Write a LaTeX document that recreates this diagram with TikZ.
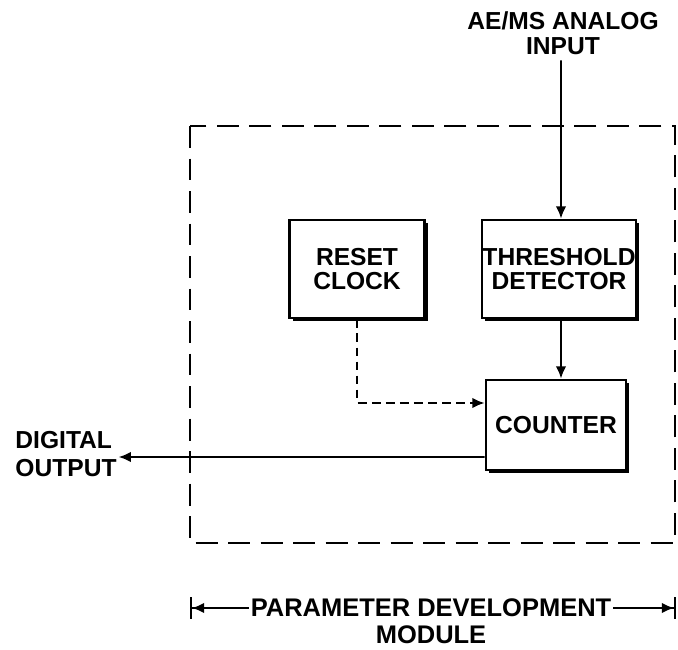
\documentclass[tikz,border=0pt]{standalone}
\usepackage{fontspec}
\setmainfont{Liberation Sans}
\usepackage{tikz}
\usetikzlibrary{arrows.meta,positioning,shadows,calc}

\begin{document}
\begin{tikzpicture}[
  x=0.02cm,y=-0.02cm,
  lbl/.style={font=\fontsize{14}{14}\selectfont\bfseries,align=center,inner sep=1pt},
  blok/.style={rectangle,draw,line width=1.6pt,fill=white,inner sep=0pt,
    font=\fontsize{14}{14}\selectfont\bfseries,align=center,
    drop shadow={shadow xshift=1.8pt,shadow yshift=-1.8pt,fill=black,opacity=1}},
  sig/.style={-{Latex[length=7pt,width=6pt]},line width=1.1pt},
  clk/.style={-{Latex[length=7pt,width=6pt]},line width=1.1pt,dash pattern=on 5pt off 3pt},
  modb/.style={line width=1.4pt,dash pattern=on 12.5pt off 6pt},
  dimn/.style={line width=1.1pt,-{Latex[length=7pt,width=6pt]Bar[width=12pt]}}
]
  \useasboundingbox (0,0) rectangle (678,649);
  % ---------------- MODULE ----------------
  \draw[modb] (190,126) rectangle (675,543);
  % ---------------- BLOCKS ----------------
  \node[blok,minimum width=2.7cm,minimum height=1.96cm] (rst) at (357,269) {RESET\\CLOCK};
  \node[blok,minimum width=3.08cm,minimum height=1.96cm] (thr) at (559,269) {THRESHOLD\\DETECTOR};
  \node[blok,minimum width=2.8cm,minimum height=1.8cm] (cnt) at (556,425) {COUNTER};
  % ---------------- TEXTS ----------------
  \node[lbl] (ain) at (563,33) {AE/MS ANALOG\\INPUT};
  \node[lbl,align=left,font=\fontsize{14}{16}\selectfont\bfseries] (dout) at (66,454) {DIGITAL\\OUTPUT};
  \node[lbl,fill=white,font=\fontsize{14.5}{15}\selectfont\bfseries] (pdm) at (431,608) {PARAMETER DEVELOPMENT};
  \node[lbl,font=\fontsize{14.5}{15}\selectfont\bfseries] (pmod) at (431,635) {MODULE};
  \coordinate (dl) at (190,608);
  \coordinate (dr) at (676,608);
  % ---------------- SIGNALS ----------------
  \draw[sig] (ain.south -| thr.north) ++(2,4) -- ([xshift=0.04cm]thr.north);
  \draw[sig] ([xshift=0.04cm]thr.south) -- ([xshift=0.04cm]thr.south |- cnt.north);
  \draw[clk] (rst.south) |- ([yshift=0.44cm]cnt.west);
  \draw[sig] ([yshift=-0.64cm]cnt.west) -- (dout.east |- {0,457});
  \draw[dimn] (pdm.west) -- (dl);
  \draw[dimn] (pdm.east) -- (dr);
\end{tikzpicture}
\end{document}
